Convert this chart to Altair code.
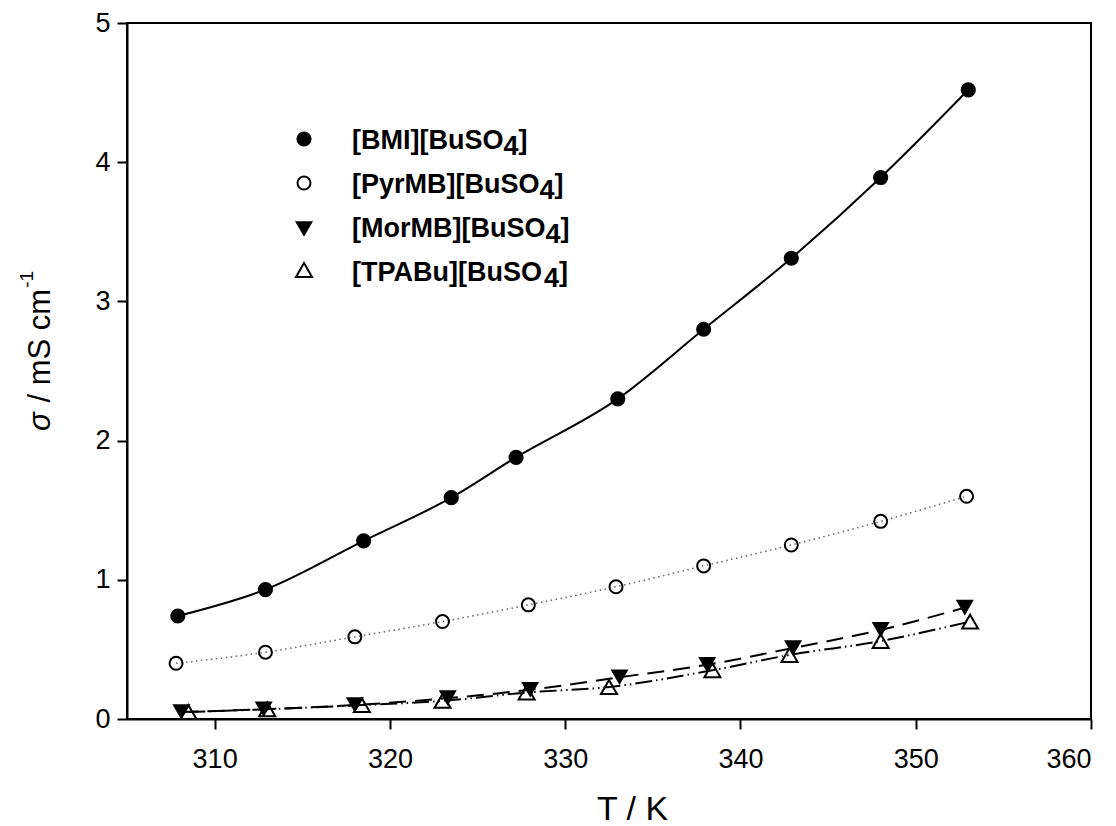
import altair as alt
import pandas as pd

# Conductivity data (T in K, sigma in mS/cm)
T_BMI = [307.9, 312.9, 318.5, 323.5, 327.2, 333.0, 337.9, 342.9, 348.0, 353.0]
S_BMI = [0.74, 0.93, 1.28, 1.59, 1.88, 2.30, 2.80, 3.31, 3.89, 4.52]

T_PYR = [307.8, 312.9, 318.0, 323.0, 327.9, 332.9, 337.9, 342.9, 348.0, 352.9]
S_PYR = [0.40, 0.48, 0.59, 0.70, 0.82, 0.95, 1.10, 1.25, 1.42, 1.60]

T_MOR = [308.1, 312.8, 318.0, 323.3, 328.0, 333.1, 338.1, 343.0, 348.0, 352.8]
S_MOR = [0.05, 0.07, 0.10, 0.15, 0.21, 0.30, 0.39, 0.51, 0.64, 0.80]

T_TPA = [308.5, 313.0, 318.4, 323.0, 327.8, 332.5, 338.4, 342.8, 348.0, 353.1]
S_TPA = [0.05, 0.07, 0.10, 0.13, 0.19, 0.23, 0.35, 0.46, 0.56, 0.70]

CATIONS = ["[BMI]", "[PyrMB]", "[MorMB]", "[TPABu]"]
X_TICKS = [310, 320, 330, 340, 350, 360]
Y_TICKS = [0, 1, 2, 3, 4, 5]

FONT = "Liberation Sans"
W, H = 964, 696

# Arial advance widths (per 1000 em) used to chain rich-text pieces
BOLD_W = {'[': 333, ']': 333, 'B': 722, 'M': 833, 'I': 278, 'u': 611, 'S': 667,
          'O': 778, 'P': 667, 'y': 556, 'r': 389, 'o': 611, 'T': 611, 'A': 722, '4': 556}
REG_W = {' ': 278, '/': 278, 'm': 833, 'S': 667, 'c': 500}


def text_width(s, table, size):
    return sum(table[ch] for ch in s) * size / 1000.0


x_scale = alt.Scale(domain=[305, 360], nice=False, zero=False)
y_scale = alt.Scale(domain=[0, 5], nice=False, zero=False)

x_axis = alt.Axis(values=X_TICKS, format="d", title="T / K", titleFont=FONT,
                  titleFontSize=34, titleFontWeight="normal", titleColor="black",
                  titleX=505, titleY=100, titleBaseline="alphabetic", titleAlign="center",
                  labelPadding=17)
y_axis = alt.Axis(values=Y_TICKS, format="d", title=None, labelPadding=7)


def enc_xy():
    return dict(x=alt.X("T:Q", scale=x_scale, axis=x_axis),
                y=alt.Y("sigma:Q", scale=y_scale, axis=y_axis))


def frame(t, s):
    return pd.DataFrame({"T": t, "sigma": s})


layers = []

# fitted curves
line_styles = [
    (T_BMI, S_BMI, dict(color="black", strokeWidth=2)),
    (T_PYR, S_PYR, dict(color="#666666", strokeWidth=1.5, strokeDash=[1.5, 3.5])),
    (T_MOR, S_MOR, dict(color="black", strokeWidth=2, strokeDash=[17, 9])),
    (T_TPA, S_TPA, dict(color="black", strokeWidth=2, strokeDash=[17, 4, 1.5, 4, 1.5, 4])),
]
for t, s, style in line_styles:
    layers.append(alt.Chart(frame(t, s)).mark_line(interpolate="monotone", **style).encode(**enc_xy()))

# measured points
point_styles = [
    (T_BMI, S_BMI, dict(shape="circle", size=230, filled=True, fill="black", strokeWidth=0)),
    (T_PYR, S_PYR, dict(shape="circle", size=169, filled=False, stroke="black", strokeWidth=2)),
    (T_MOR, S_MOR, dict(shape="triangle-down", size=324, filled=True, fill="black", strokeWidth=0)),
    (T_TPA, S_TPA, dict(shape="triangle-up", size=256, filled=False, stroke="black", strokeWidth=2)),
]
for t, s, style in point_styles:
    layers.append(alt.Chart(frame(t, s)).mark_point(opacity=1, **style).encode(**enc_xy()))

one = pd.DataFrame({"k": [0]})

# legend inside the plot
LEG_SYM_X = 177
LEG_TXT_X = 225
LEG_SYM_Y = [116, 160, 206, 247]
LEG_BASE_Y = [126, 170, 214, 258]
LEG_SIZE = 27
for i, (cation, (_, _, style)) in enumerate(zip(CATIONS, point_styles)):
    layers.append(alt.Chart(one).mark_point(opacity=1, **style).encode(
        x=alt.value(LEG_SYM_X), y=alt.value(LEG_SYM_Y[i])))
    head = cation + "[BuSO"
    w_head = text_width(head, BOLD_W, LEG_SIZE)
    w_four = text_width("4", BOLD_W, LEG_SIZE)
    pieces = [(head, 0, 0), ("4", w_head, 6), ("]", w_head + w_four, 0)]
    for txt, dx, dy in pieces:
        layers.append(alt.Chart(one).mark_text(
            font=FONT, fontSize=LEG_SIZE, fontWeight="bold", color="black",
            align="left", baseline="alphabetic").encode(
            x=alt.value(LEG_TXT_X + dx), y=alt.value(LEG_BASE_Y[i] + dy),
            text=alt.value(txt)))

# y-axis title: italic sigma, units, superscript -1 (rotated)
YT_SIZE = 31
YT_BASE_X = -77
YT_START_Y = 408
sig_w = 0.62 * YT_SIZE
rest = "/ mS cm"
rest_w = text_width(rest, REG_W, YT_SIZE)
gap = 0.3 * YT_SIZE
ytitle = [
    ("σ", YT_BASE_X, YT_START_Y, YT_SIZE, "italic"),
    (rest, YT_BASE_X, YT_START_Y - sig_w - gap, YT_SIZE, "normal"),
    ("-1", YT_BASE_X - 17, YT_START_Y - sig_w - gap - rest_w - 1, 19, "normal"),
]
for txt, px, py, fs, style in ytitle:
    layers.append(alt.Chart(one).mark_text(
        font=FONT, fontSize=fs, fontStyle=style, color="black", angle=270,
        align="left", baseline="alphabetic").encode(
        x=alt.value(px), y=alt.value(py), text=alt.value(txt)))

chart = alt.layer(*layers).properties(
    width=W, height=H,
    autosize=alt.AutoSizeParams(type="none"),
    padding={"left": 127, "top": 23, "right": 25, "bottom": 107},
    background="white",
).configure_view(
    stroke="black", strokeWidth=2
).configure_axis(
    domainColor="black", domainWidth=2, tickColor="black", tickWidth=2, tickSize=10,
    labelFont=FONT, labelFontSize=27, labelColor="black", grid=False,
)

chart.save("out.html", embed_options={"renderer": "svg", "actions": False})
